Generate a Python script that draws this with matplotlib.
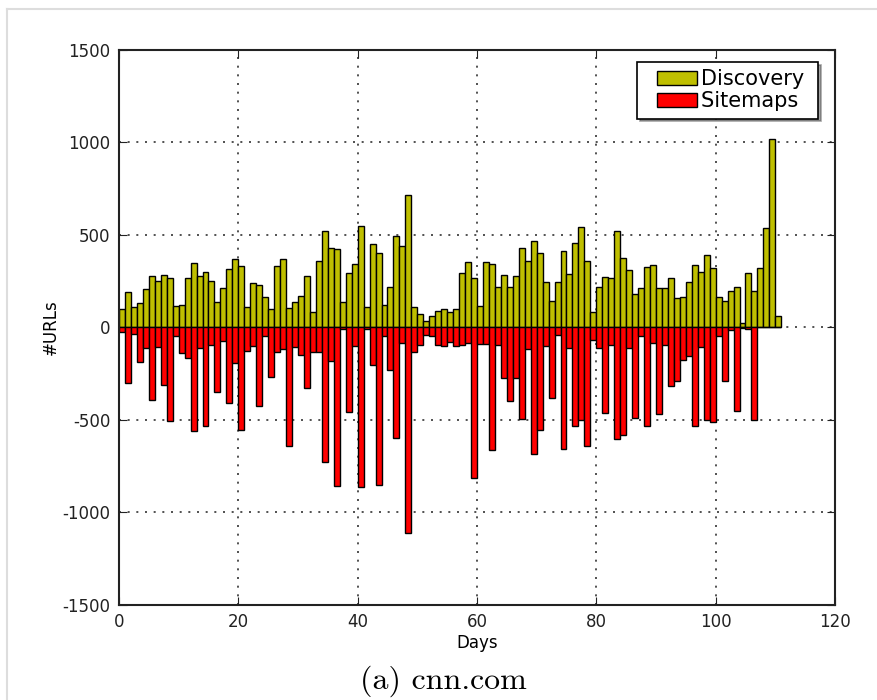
import matplotlib
matplotlib.use("Agg")
import matplotlib.pyplot as plt
from matplotlib.lines import Line2D
from matplotlib.patches import Rectangle
from matplotlib.container import BarContainer
from matplotlib.legend_handler import HandlerPatch, update_from_first_child
import numpy as np

# daily URL counts (days 0..110)
discovery = [
    100, 190, 110, 130, 210, 280, 250, 285, 265, 115,
    120, 265, 350, 280, 300, 250, 135, 215, 315, 370,
    330, 110, 240, 230, 165, 100, 330, 370, 105, 135,
    170, 280, 85, 360, 520, 430, 425, 140, 295, 345,
    550, 110, 450, 405, 120, 220, 495, 440, 715, 110,
    75, 35, 60, 90, 100, 85, 100, 295, 355, 270,
    115, 355, 345, 220, 285, 220, 280, 430, 360, 465,
    400, 245, 145, 245, 415, 290, 455, 545, 360, 85,
    220, 275, 270, 520, 375, 310, 180, 215, 325, 335,
    215, 215, 265, 160, 165, 245, 340, 300, 390, 320,
    165, 145, 195, 220, 25, 295, 195, 320, 540, 1020,
    60,
]
sitemaps = [
    -25, -300, -35, -185, -110, -390, -105, -310, -505, -45,
    -140, -165, -560, -110, -530, -95, -350, -75, -410, -190,
    -555, -125, -100, -425, -45, -270, -130, -115, -640, -105,
    -150, -325, -130, -135, -725, -180, -855, -10, -455, -100,
    -860, -10, -205, -850, -45, -230, -600, -85, -1110, -130,
    -95, -40, -45, -95, -100, -80, -100, -95, -85, -815,
    -90, -90, -660, -95, -275, -400, -275, -495, -115, -685,
    -555, -100, -380, -40, -655, -110, -530, -500, -640, -70,
    -110, -460, -95, -605, -580, -110, -490, -45, -530, -85,
    -470, -95, -315, -290, -175, -155, -535, -105, -500, -510,
    -45, -290, -15, -450, -5, -10, -500, 0, 0, 0,
    0,
]
days = np.arange(len(discovery))

plt.rcParams["font.family"] = "DejaVu Sans"
plt.rcParams["axes.unicode_minus"] = False


def legend_box(legend, orig_handle, xdescent, ydescent, width, height, fontsize):
    # patch sits in the right part of the handle slot, like the old legend look
    w = width * 0.77
    return Rectangle((-xdescent + width - w, -ydescent), w, height)


fig = plt.figure(figsize=(8.78, 7.0), dpi=100)
ax = fig.add_axes([0.1355, 0.1357, 0.8155, 0.793])

ax.bar(days, discovery, width=1.0, align="edge", color=(0.75, 0.75, 0),
       edgecolor="black", linewidth=1.0, label="Discovery ", zorder=2)
ax.bar(days, sitemaps, width=1.0, align="edge", color="red",
       edgecolor="black", linewidth=1.0, label="Sitemaps ", zorder=2)

ax.set_xlim(0, 120)
ax.set_ylim(-1500, 1500)
ax.set_xticks(np.arange(0, 121, 20))
ax.set_yticks(np.arange(-1500, 1501, 500))
ax.grid(True, color="#333333", linestyle=(0, (1.2, 4)), linewidth=1.2, zorder=0)
ax.set_axisbelow(True)
ax.tick_params(direction="in", length=6, top=True, right=True,
               labelsize=12, colors="#222222", pad=6)
for sp in ax.spines.values():
    sp.set_linewidth(1.5)
    sp.set_color("#222222")

ax.set_xlabel("Days", fontsize=12, labelpad=2)
ax.set_ylabel("#URLs", fontsize=12, labelpad=2)

handler = HandlerPatch(patch_func=legend_box, update_func=update_from_first_child)
leg = ax.legend(loc="upper right", bbox_to_anchor=(0.9763, 0.9784),
                borderaxespad=0, fontsize=15, fancybox=False, shadow=True,
                framealpha=1, edgecolor="black",
                handleheight=0.65, handlelength=2.5, handletextpad=0.2,
                labelspacing=0.1, borderpad=0.35,
                handler_map={BarContainer: handler})
leg.get_frame().set_linewidth(1.2)

fig.text(0.505, 0.027, "(a) cnn.com", ha="center", va="center",
         fontsize=23, fontfamily="cmr10")

# faint frame around the figure panel
fig.add_artist(Line2D([0.008, 0.008], [0, 0.987], color="#dddddd", lw=1.5))
fig.add_artist(Line2D([0.008, 1], [0.987, 0.987], color="#dddddd", lw=1.5))

fig.savefig("out.png", dpi=100)
